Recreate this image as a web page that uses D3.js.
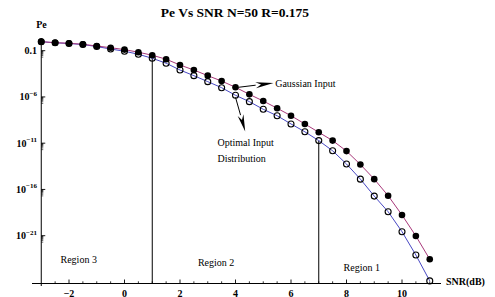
<!DOCTYPE html>
<html>
<head>
<meta charset="utf-8">
<script src="https://cdn.jsdelivr.net/npm/d3@7"></script>
<style>
  html, body { margin: 0; padding: 0; background: #fff; }
  svg { display: block; }
  text { font-family: "Liberation Serif", "DejaVu Serif", serif; }
</style>
</head>
<body>
<svg id="chart" width="495" height="297"></svg>
<script>
// ---- data ----
const snr = [-3, -2.5, -2, -1.5, -1, -0.5, 0, 0.5, 1, 1.5, 2, 2.5, 3, 3.5, 4, 4.5, 5, 5.5, 6, 6.5, 7, 7.5, 8, 8.5, 9, 9.5, 10, 10.5, 11];
const gaussianPe = [0.94, 0.73, 0.63, 0.49, 0.32, 0.21, 0.13, 0.068, 0.032, 0.012,
  2.8e-3, 8.1e-4, 2.0e-4, 5.2e-5, 1.1e-5, 1.9e-6, 3.6e-7, 6.0e-8, 9.3e-9, 1.2e-9,
  1.5e-10, 1.9e-11, 1.4e-12, 5.0e-14, 1.3e-15, 2.1e-17, 1.7e-19, 9.3e-22, 2.8e-24];
const optimalPe = [0.93, 0.71, 0.60, 0.46, 0.28, 0.15, 0.087, 0.041, 0.015, 4.4e-3,
  8.1e-4, 2.0e-4, 4.5e-5, 1.0e-5, 1.5e-6, 3.1e-7, 4.6e-8, 9.3e-9, 1.2e-9, 1.7e-10,
  1.9e-11, 1.5e-12, 5.6e-14, 1.3e-15, 1.9e-17, 3.9e-19, 2.7e-21, 8.1e-24, 1.3e-26];
const xMajorTicks = [-2, 0, 2, 4, 6, 8, 10];
const yMajorExps = [-1, -6, -11, -16, -21];
const regionBoundaries = [1, 7];
const regionLabels = [
  { text: "Region 3", snr: -1.65 },
  { text: "Region 2", snr: 3.3 },
  { text: "Region 1", snr: 8.55 }
];
const title = "Pe Vs SNR N=50 R=0.175";

// ---- scales ----
const svg = d3.select("#chart");
const x = d3.scaleLinear().domain([-3, 11]).range([41.25, 429.75]);
const y = d3.scaleLog().domain([Math.pow(10, -26.2), Math.pow(10, 0.37)]).range([283.8, 38]);
const axisY = 283.5;
const axisX = x(-3);

const colGauss = "#a8387a";
const colOpt = "#4848c4";

// ---- axes ----
svg.append("line").attr("x1", 32).attr("x2", 441).attr("y1", axisY).attr("y2", axisY)
  .attr("stroke", "#000").attr("stroke-width", 1);
svg.append("line").attr("x1", axisX).attr("x2", axisX).attr("y1", 38).attr("y2", 286)
  .attr("stroke", "#000").attr("stroke-width", 1);

// x ticks
const xMinor = d3.range(-3, 11.01, 0.5).filter(v => !xMajorTicks.includes(v) && v > -3);
svg.append("g").selectAll("line").data(xMinor).join("line")
  .attr("x1", d => x(d)).attr("x2", d => x(d)).attr("y1", axisY).attr("y2", axisY - 2.2)
  .attr("stroke", "#000").attr("stroke-width", 0.8);
svg.append("g").selectAll("line").data(xMajorTicks).join("line")
  .attr("x1", d => x(d)).attr("x2", d => x(d)).attr("y1", axisY).attr("y2", axisY - 4)
  .attr("stroke", "#000").attr("stroke-width", 0.9);
svg.append("g").selectAll("text").data(xMajorTicks).join("text")
  .attr("x", d => x(d)).attr("y", 296.5).attr("text-anchor", "middle")
  .attr("font-size", "10px").attr("font-weight", "bold")
  .text(d => d < 0 ? "\u2212" + Math.abs(d) : String(d));

// y ticks
const yMinor = [];
yMajorExps.forEach(e => { for (let k = 2; k <= 9; k++) yMinor.push(k * Math.pow(10, e - 1)); });
svg.append("g").selectAll("line").data(yMinor).join("line")
  .attr("x1", axisX).attr("x2", axisX + 2).attr("y1", d => y(d)).attr("y2", d => y(d))
  .attr("stroke", "#000").attr("stroke-width", 0.6);
svg.append("g").selectAll("line").data(yMajorExps).join("line")
  .attr("x1", axisX).attr("x2", axisX + 4).attr("y1", d => y(Math.pow(10, d))).attr("y2", d => y(Math.pow(10, d)))
  .attr("stroke", "#000").attr("stroke-width", 0.9);
const yl = svg.append("g").selectAll("text").data(yMajorExps).join("text")
  .attr("x", 37).attr("y", d => y(Math.pow(10, d)) + 3.5).attr("text-anchor", "end")
  .attr("font-size", "10px").attr("font-weight", "bold");
yl.each(function(d) {
  const t = d3.select(this);
  if (d === -1) { t.text("0.1"); return; }
  t.append("tspan").text("10");
  t.append("tspan").attr("dy", -4.5).attr("font-size", "7px").text("\u2212" + Math.abs(d));
});

// axis labels & title
svg.append("text").attr("x", 235).attr("y", 16.5).attr("text-anchor", "middle")
  .attr("font-size", "13.5px").attr("font-weight", "bold").text(title);
svg.append("text").attr("x", 41.5).attr("y", 27.5).attr("text-anchor", "middle")
  .attr("font-size", "10px").attr("font-weight", "bold").text("Pe");
svg.append("text").attr("x", 446).attr("y", 285).attr("text-anchor", "start")
  .attr("font-size", "10px").attr("font-weight", "bold").text("SNR(dB)");

// region boundaries
svg.append("g").selectAll("line").data(regionBoundaries).join("line")
  .attr("x1", d => x(d)).attr("x2", d => x(d))
  .attr("y1", d => y(optimalPe[snr.indexOf(d)])).attr("y2", axisY)
  .attr("stroke", "#000").attr("stroke-width", 1);

// region labels
const regionY = [263, 266, 271];
svg.append("g").selectAll("text").data(regionLabels).join("text")
  .attr("x", d => x(d.snr)).attr("y", (d, i) => regionY[i]).attr("text-anchor", "middle")
  .attr("font-size", "10px").text(d => d.text);

// lines
const lineG = d3.line().x((d, i) => x(snr[i])).y(d => y(d));
svg.append("path").datum(optimalPe).attr("d", lineG).attr("fill", "none")
  .attr("stroke", colOpt).attr("stroke-width", 1);
svg.append("path").datum(gaussianPe).attr("d", lineG).attr("fill", "none")
  .attr("stroke", colGauss).attr("stroke-width", 1);

// points
svg.append("g").selectAll("circle").data(optimalPe).join("circle")
  .attr("cx", (d, i) => x(snr[i])).attr("cy", d => y(d)).attr("r", 3)
  .attr("fill", "none").attr("stroke", "#000").attr("stroke-width", 1.1);
svg.append("g").selectAll("circle").data(gaussianPe).join("circle")
  .attr("cx", (d, i) => x(snr[i])).attr("cy", d => y(d)).attr("r", 3.3)
  .attr("fill", "#000");

// annotations with arrows
function arrow(x1, y1, x2, y2, headLen, headW) {
  const ang = Math.atan2(y2 - y1, x2 - x1);
  const bx = x2 - headLen * Math.cos(ang), by = y2 - headLen * Math.sin(ang);
  svg.append("line").attr("x1", x1).attr("y1", y1).attr("x2", bx).attr("y2", by)
    .attr("stroke", "#000").attr("stroke-width", 1);
  const px = -Math.sin(ang) * headW, py = Math.cos(ang) * headW;
  svg.append("path")
    .attr("d", `M${x2},${y2}L${bx + px},${by + py}L${bx + 0.3 * headLen * Math.cos(ang)},${by + 0.3 * headLen * Math.sin(ang)}L${bx - px},${by - py}Z`)
    .attr("fill", "#000");
}
const iA = snr.indexOf(4);
arrow(x(4) + 3, y(gaussianPe[iA]), x(5.37), 83, 18, 3);
svg.append("text").attr("x", x(5.43)).attr("y", 86.5).attr("font-size", "10px").text("Gaussian Input");
arrow(x(4), y(optimalPe[iA]) + 2, x(4.35), 131.5, 17, 3);
svg.append("text").attr("x", x(3.35)).attr("y", 145.5).attr("font-size", "10px").text("Optimal Input");
svg.append("text").attr("x", x(3.35)).attr("y", 161.5).attr("font-size", "10px").text("Distribution");
</script>
</body>
</html>
